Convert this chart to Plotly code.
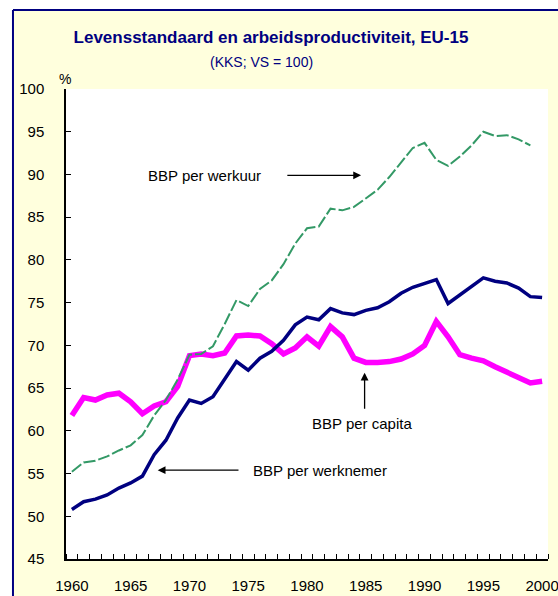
import plotly.graph_objects as go

years = list(range(1960, 2001))

bbp_per_werkuur = [55.2, 56.3, 56.5, 57.0, 57.7, 58.3, 59.5, 61.8, 63.6, 66.0,
                   68.9, 69.0, 69.9, 72.5, 75.3, 74.6, 76.6, 77.6, 79.5, 81.9,
                   83.7, 83.9, 86.0, 85.8, 86.2, 87.2, 88.2, 89.7, 91.4, 93.1,
                   93.7, 91.7, 91.0, 92.1, 93.4, 95.0, 94.5, 94.6, 94.1, 93.4, None]

bbp_per_werknemer = [50.8, 51.7, 52.0, 52.5, 53.3, 53.9, 54.7, 57.2, 58.9, 61.5,
                     63.6, 63.2, 64.0, 66.0, 68.1, 67.1, 68.5, 69.3, 70.6, 72.4,
                     73.3, 73.0, 74.3, 73.8, 73.6, 74.1, 74.4, 75.1, 76.1, 76.8,
                     77.3, 77.7, 74.9, 75.9, 76.9, 77.9, 77.5, 77.3, 76.7, 75.7, 75.6]

bbp_per_capita = [61.8, 63.9, 63.6, 64.2, 64.4, 63.4, 62.0, 62.9, 63.4, 65.2,
                  68.8, 69.0, 68.8, 69.1, 71.1, 71.2, 71.1, 70.2, 69.0, 69.7,
                  71.0, 69.9, 72.2, 71.0, 68.5, 68.0, 68.0, 68.1, 68.4, 69.0,
                  70.0, 72.8, 71.0, 68.9, 68.5, 68.2, 67.5, 66.9, 66.3, 65.6, 65.8]

x_tick_labels = [1960, 1965, 1970, 1975, 1980, 1985, 1990, 1995, 2000]
y_ticks = list(range(45, 101, 5))

FONT = "Liberation Sans, Arial, sans-serif"
NAVY = "#000080"
CREAM = "#FFFFDD"

fig = go.Figure()
fig.add_trace(go.Scatter(x=years, y=bbp_per_capita, mode="lines", name="BBP per capita",
                         line=dict(color="#FF00FF", width=5.5)))
fig.add_trace(go.Scatter(x=years, y=bbp_per_werknemer, mode="lines", name="BBP per werknemer",
                         line=dict(color=NAVY, width=3.5)))
fig.add_trace(go.Scatter(x=years, y=bbp_per_werkuur, mode="lines", name="BBP per werkuur",
                         line=dict(color="#339966", width=2, dash="12px,3px"),
                         connectgaps=False))

annotations = [
    dict(text="(KKS; VS = 100)", xref="paper", yref="paper", x=0.4046, y=1.0574,
         xanchor="center", yanchor="middle",
         showarrow=False, font=dict(family=FONT, size=14, color=NAVY)),
    dict(text="%", xref="paper", yref="paper", x=-0.002, y=1.021,
         xanchor="center", yanchor="middle",
         showarrow=False, font=dict(family=FONT, size=14, color="black")),
    dict(text="BBP per werkuur", x=1971.3, y=89.9, xref="x", yref="y",
         xanchor="center", yanchor="middle",
         showarrow=False, font=dict(family=FONT, size=15, color="black")),
    dict(text="BBP per capita", x=1984.7, y=60.8, xref="x", yref="y",
         xanchor="center", yanchor="middle",
         showarrow=False, font=dict(family=FONT, size=15, color="black")),
    dict(text="BBP per werknemer", x=1981.1, y=55.4, xref="x", yref="y",
         xanchor="center", yanchor="middle",
         showarrow=False, font=dict(family=FONT, size=15, color="black")),
    dict(text="", x=1984.6, y=89.9, ax=1978.2, ay=89.9, xref="x", yref="y",
         axref="x", ayref="y", showarrow=True, arrowhead=2, arrowsize=1.2,
         arrowwidth=1.3, arrowcolor="black"),
    dict(text="", x=1967.3, y=55.4, ax=1974.3, ay=55.4, xref="x", yref="y",
         axref="x", ayref="y", showarrow=True, arrowhead=2, arrowsize=1.2,
         arrowwidth=1.3, arrowcolor="black"),
    dict(text="", x=1984.9, y=66.8, ax=1984.9, ay=62.4, xref="x", yref="y",
         axref="x", ayref="y", showarrow=True, arrowhead=2, arrowsize=1.2,
         arrowwidth=1.3, arrowcolor="black"),
]

shapes = [
    dict(type="rect", xref="paper", yref="paper", x0=-0.3, x1=1.2, y0=1.168, y1=1.4,
         fillcolor="white", line=dict(width=0), layer="above"),
    dict(type="rect", xref="paper", yref="paper", x0=-0.3, x1=-0.110, y0=-0.2, y1=1.4,
         fillcolor="white", line=dict(width=0), layer="above"),
    dict(type="line", xref="paper", yref="paper", x0=-0.110, x1=1.2, y0=1.168, y1=1.168,
         line=dict(color=NAVY, width=2), layer="above"),
    dict(type="line", xref="paper", yref="paper", x0=-0.110, x1=-0.110, y0=-0.2, y1=1.168,
         line=dict(color=NAVY, width=2), layer="above"),
]

fig.update_layout(
    width=558, height=596,
    margin=dict(l=66, r=10, t=89, b=37),
    paper_bgcolor=CREAM, plot_bgcolor="white",
    showlegend=False,
    title=dict(text="<b>Levensstandaard en arbeidsproductiviteit, EU-15</b>",
               x=271/558, xanchor="center", y=1-37/596, yanchor="middle",
               font=dict(family=FONT, size=17, color=NAVY)),
    annotations=annotations,
    shapes=shapes,
    font=dict(family=FONT, color="black"),
)

fig.update_xaxes(range=[1959.5, 2000.5], tickmode="array", tickvals=x_tick_labels,
                 ticktext=[str(v) for v in x_tick_labels], ticks="", showgrid=False,
                 zeroline=False, showline=True, linecolor="black", linewidth=1.5,
                 automargin=False, ticklabeloverflow="allow",
                 tickfont=dict(family=FONT, size=15, color="black"),
                 ticklabelstandoff=12,
                 minor=dict(tick0=1959.5, dtick=1, ticks="inside", ticklen=5,
                            tickcolor="black", tickwidth=1, showgrid=False))
fig.update_yaxes(range=[45, 100], tickmode="array", tickvals=y_ticks, ticks="inside",
                 ticklen=5, tickcolor="black", showgrid=False, zeroline=False,
                 showline=True, linecolor="black", linewidth=1.5,
                 automargin=False,
                 tickfont=dict(family=FONT, size=15, color="black"),
                 ticklabelstandoff=17)

fig.write_html("out.html", config={"displayModeBar": False},
               post_script="document.body.style.margin='0';document.body.style.padding='0';")
